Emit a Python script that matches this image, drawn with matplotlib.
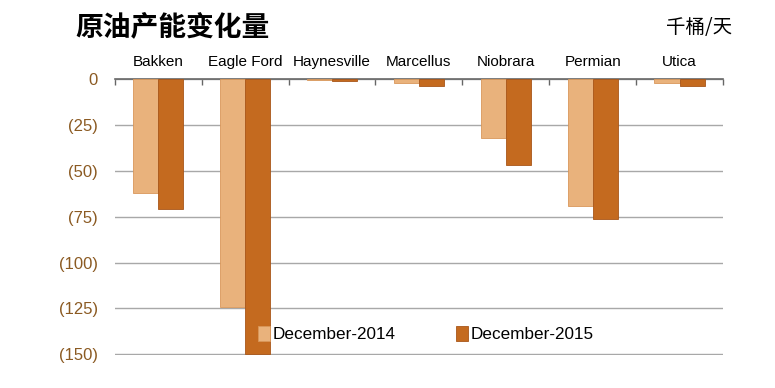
import matplotlib
matplotlib.use('Agg')
import matplotlib.pyplot as plt
import numpy as np

plt.rcParams['font.family'] = ['Liberation Sans', 'Noto Sans CJK SC', 'DejaVu Sans']

regions = ['Bakken', 'Eagle Ford', 'Haynesville', 'Marcellus', 'Niobrara', 'Permian', 'Utica']
dec_2014 = [-62, -124, -0.6, -2.3, -32, -69, -2]
dec_2015 = [-71, -150, -1.2, -4, -47, -76.5, -3.5]
series_names = ['December-2014', 'December-2015']
yticks = [0, -25, -50, -75, -100, -125, -150]
ytick_labels = ['0', '(25)', '(50)', '(75)', '(100)', '(125)', '(150)']

light = '#E9B27C'
dark = '#C46A1F'

fig = plt.figure(figsize=(7.75, 3.88), dpi=100)
ax = fig.add_axes([0.148, 0.085, 0.785, 0.711])

x = np.arange(len(regions))
w = 0.29
ax.bar(x - w / 2, dec_2014, w, color=light, edgecolor='#D9975A', linewidth=0.6,
       label=series_names[0], zorder=3)
ax.bar(x + w / 2, dec_2015, w, color=dark, edgecolor='#A8561A', linewidth=0.6,
       label=series_names[1], zorder=3)

ax.set_xlim(-0.5, len(regions) - 0.5)
ax.set_ylim(-150.4, 0)
ax.set_yticks(yticks)
ax.set_yticklabels(ytick_labels, color='#8B5A22', fontsize=12)
ax.tick_params(axis='y', length=0, pad=12)
ax.yaxis.grid(True, color='#A8A8A8', linewidth=1.0, zorder=0)

# category labels on top, ticks between categories on the zero line
ax.xaxis.tick_top()
ax.set_xticks(x)
ax.set_xticklabels(regions, fontsize=11)
ax.tick_params(axis='x', length=0, pad=7)
ax.set_xticks(np.arange(len(regions) + 1) - 0.5, minor=True)
ax.tick_params(axis='x', which='minor', top=True, direction='in', length=4,
               color='#666666', width=1)

for s in ['left', 'right', 'bottom']:
    ax.spines[s].set_visible(False)
ax.spines['top'].set_color('#666666')
ax.spines['top'].set_linewidth(1.2)

ax.legend(loc='lower left', bbox_to_anchor=(0.21, -0.01), ncol=2, frameon=False,
          fontsize=12.3, handlelength=0.7, handleheight=0.9, handletextpad=0.15,
          columnspacing=3.55)

fig.text(0.097, 0.93, '原油产能变化量', fontsize=20, fontweight='bold',
         family=['Noto Sans CJK SC'], va='center', ha='left')
fig.text(0.945, 0.93, '千桶/天', fontsize=14, family=['Noto Sans CJK SC'],
         va='center', ha='right')

fig.savefig('out.png', dpi=100)
